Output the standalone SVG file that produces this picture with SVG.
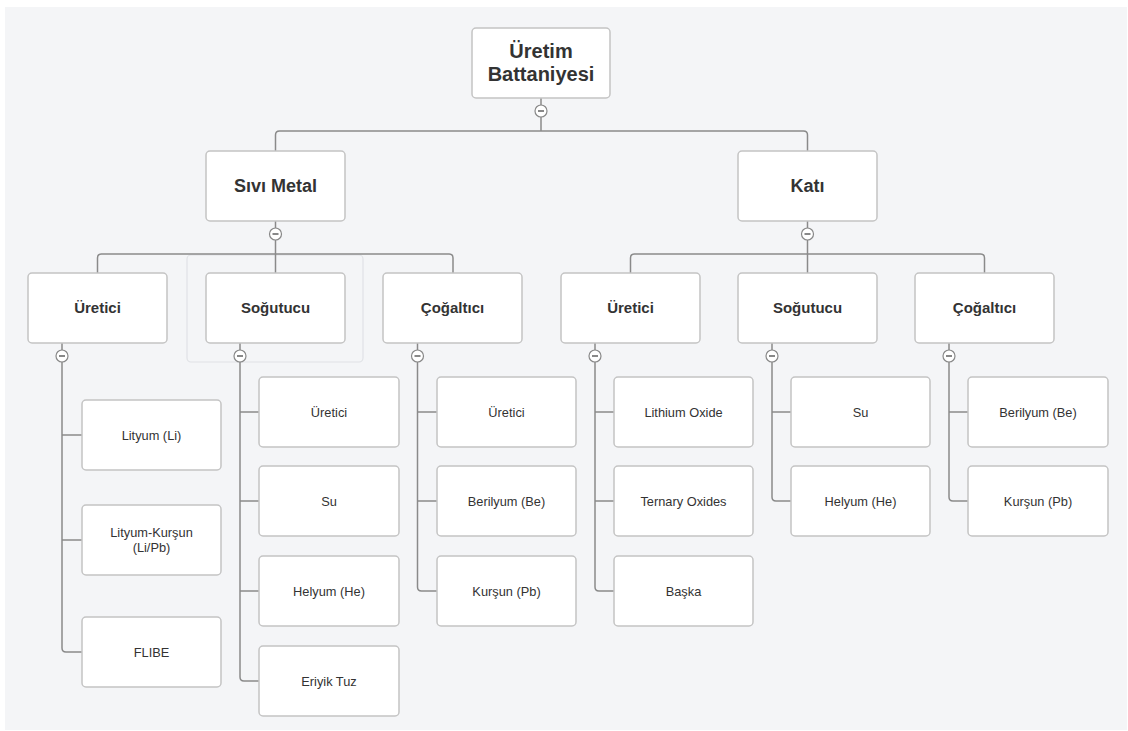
<svg xmlns="http://www.w3.org/2000/svg" width="1128" height="731" viewBox="0 0 1128 731">
<style>
.bg{fill:#f4f5f7}
.box{fill:#fff;stroke:#c4c4c4;stroke-width:1.5}
.c{fill:none;stroke:#8a8a8a;stroke-width:1.5}
.tg{fill:none;stroke:#e0e2e6;stroke-width:1.2}
.t0{font-family:"Liberation Sans",Arial,sans-serif;font-weight:bold;font-size:20px;fill:#333;text-anchor:middle}
.t1{font-family:"Liberation Sans",Arial,sans-serif;font-weight:bold;font-size:18px;fill:#333;text-anchor:middle}
.t2{font-family:"Liberation Sans",Arial,sans-serif;font-weight:bold;font-size:15px;fill:#333;text-anchor:middle}
.t3{font-family:"Liberation Sans",Arial,sans-serif;font-size:12.8px;fill:#333;text-anchor:middle}
</style>
<defs>
<g id="tg"><circle cx="0" cy="0" r="6" fill="#fff" stroke="#888" stroke-width="1.2"/><line x1="-3" y1="0" x2="3" y2="0" stroke="#555" stroke-width="1.4"/></g>
</defs>
<rect class="bg" x="5" y="7" width="1122" height="723"/>
<rect class="tg" x="187" y="255" width="176" height="107" rx="4"/>
<g id="connectors">
<path class="c" d="M541 98 V131 M275.5 151 V135 Q275.5 131 279.5 131 H803.5 Q807.5 131 807.5 135 V151"/>
<path class="c" d="M275.5 221 V273 M97.5 273 V258 Q97.5 254 101.5 254 H449 Q453 254 453 258 V273"/>
<path class="c" d="M807.5 221 V273 M630.5 273 V258 Q630.5 254 634.5 254 H980.5 Q984.5 254 984.5 258 V273"/>
<path class="c" d="M62 343 V648 Q62 652 66 652 H82 M62 435 H82 M62 540 H82"/>
<path class="c" d="M240 343 V677 Q240 681 244 681 H259 M240 412 H259 M240 501 H259 M240 591 H259"/>
<path class="c" d="M417.5 343 V587 Q417.5 591 421.5 591 H437 M417.5 412 H437 M417.5 501 H437"/>
<path class="c" d="M595 343 V587 Q595 591 599 591 H614 M595 412 H614 M595 501 H614"/>
<path class="c" d="M772 343 V497 Q772 501 776 501 H791 M772 412 H791"/>
<path class="c" d="M949 343 V497 Q949 501 953 501 H968 M949 412 H968"/>
</g>
<g id="toggles">
<use href="#tg" x="541" y="111"/>
<use href="#tg" x="275.5" y="234"/>
<use href="#tg" x="807.5" y="234"/>
<use href="#tg" x="62" y="356"/>
<use href="#tg" x="240" y="356"/>
<use href="#tg" x="417.5" y="356"/>
<use href="#tg" x="595" y="356"/>
<use href="#tg" x="772" y="356"/>
<use href="#tg" x="949" y="356"/>
</g>
<g id="root"><rect class="box" x="472" y="28" width="138" height="70" rx="4"/><text class="t0" x="541" y="58">Üretim</text><text class="t0" x="541" y="81">Battaniyesi</text></g>
<g id="sivi"><rect class="box" x="206" y="151" width="139" height="70" rx="4"/><text class="t1" x="275.5" y="192">Sıvı Metal</text></g>
<g id="kati"><rect class="box" x="738" y="151" width="139" height="70" rx="4"/><text class="t1" x="807.5" y="192">Katı</text></g>
<g id="s-uretici"><rect class="box" x="28" y="273" width="139" height="70" rx="4"/><text class="t2" x="97.5" y="313">Üretici</text></g>
<g id="s-sogutucu"><rect class="box" x="206" y="273" width="139" height="70" rx="4"/><text class="t2" x="275.5" y="313">Soğutucu</text></g>
<g id="s-cogaltici"><rect class="box" x="383" y="273" width="139" height="70" rx="4"/><text class="t2" x="452.5" y="313">Çoğaltıcı</text></g>
<g id="k-uretici"><rect class="box" x="561" y="273" width="139" height="70" rx="4"/><text class="t2" x="630.5" y="313">Üretici</text></g>
<g id="k-sogutucu"><rect class="box" x="738" y="273" width="139" height="70" rx="4"/><text class="t2" x="807.5" y="313">Soğutucu</text></g>
<g id="k-cogaltici"><rect class="box" x="915" y="273" width="139" height="70" rx="4"/><text class="t2" x="984.5" y="313">Çoğaltıcı</text></g>
<g id="su-1"><rect class="box" x="82" y="400" width="139" height="70" rx="4"/><text class="t3" x="151.5" y="440">Lityum (Li)</text></g>
<g id="su-2"><rect class="box" x="82" y="505" width="139" height="70" rx="4"/><text class="t3" x="151.5" y="537">Lityum-Kurşun</text><text class="t3" x="151.5" y="552">(Li/Pb)</text></g>
<g id="su-3"><rect class="box" x="82" y="617" width="139" height="70" rx="4"/><text class="t3" x="151.5" y="657">FLIBE</text></g>
<g id="ss-1"><rect class="box" x="259" y="377" width="140" height="70" rx="4"/><text class="t3" x="329" y="417">Üretici</text></g>
<g id="ss-2"><rect class="box" x="259" y="466" width="140" height="70" rx="4"/><text class="t3" x="329" y="506">Su</text></g>
<g id="ss-3"><rect class="box" x="259" y="556" width="140" height="70" rx="4"/><text class="t3" x="329" y="596">Helyum (He)</text></g>
<g id="ss-4"><rect class="box" x="259" y="646" width="140" height="70" rx="4"/><text class="t3" x="329" y="686">Eriyik Tuz</text></g>
<g id="sc-1"><rect class="box" x="437" y="377" width="139" height="70" rx="4"/><text class="t3" x="506.5" y="417">Üretici</text></g>
<g id="sc-2"><rect class="box" x="437" y="466" width="139" height="70" rx="4"/><text class="t3" x="506.5" y="506">Berilyum (Be)</text></g>
<g id="sc-3"><rect class="box" x="437" y="556" width="139" height="70" rx="4"/><text class="t3" x="506.5" y="596">Kurşun (Pb)</text></g>
<g id="ku-1"><rect class="box" x="614" y="377" width="139" height="70" rx="4"/><text class="t3" x="683.5" y="417">Lithium Oxide</text></g>
<g id="ku-2"><rect class="box" x="614" y="466" width="139" height="70" rx="4"/><text class="t3" x="683.5" y="506">Ternary Oxides</text></g>
<g id="ku-3"><rect class="box" x="614" y="556" width="139" height="70" rx="4"/><text class="t3" x="683.5" y="596">Başka</text></g>
<g id="ks-1"><rect class="box" x="791" y="377" width="139" height="70" rx="4"/><text class="t3" x="860.5" y="417">Su</text></g>
<g id="ks-2"><rect class="box" x="791" y="466" width="139" height="70" rx="4"/><text class="t3" x="860.5" y="506">Helyum (He)</text></g>
<g id="kc-1"><rect class="box" x="968" y="377" width="140" height="70" rx="4"/><text class="t3" x="1038" y="417">Berilyum (Be)</text></g>
<g id="kc-2"><rect class="box" x="968" y="466" width="140" height="70" rx="4"/><text class="t3" x="1038" y="506">Kurşun (Pb)</text></g>
</svg>
